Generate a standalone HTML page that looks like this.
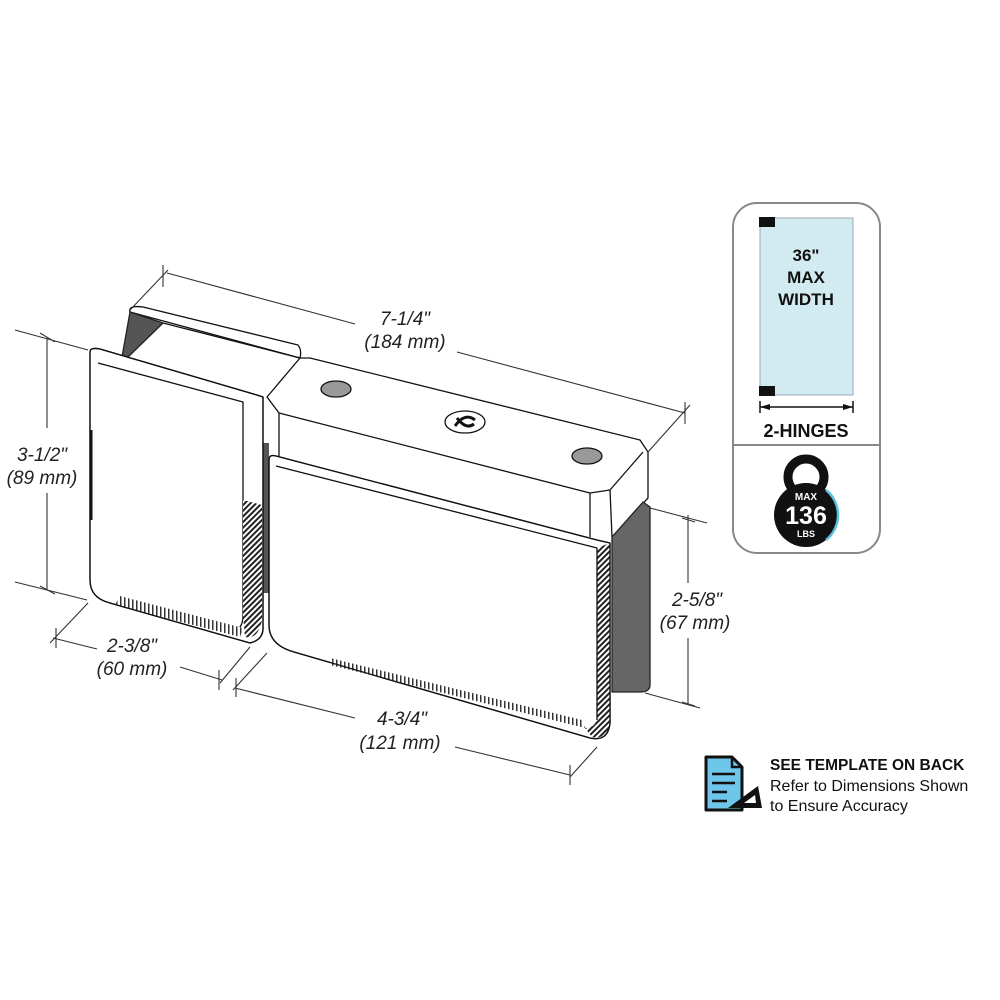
<!DOCTYPE html>
<html><head><meta charset="utf-8"><style>
html,body{margin:0;padding:0;background:#fff;}
svg{display:block;}
.dim{font-family:"Liberation Sans",sans-serif;font-style:italic;font-size:19px;fill:#222;}
.b{font-family:"Liberation Sans Narrow","Liberation Sans",sans-serif;font-weight:bold;fill:#111;}
</style></head><body>
<svg width="1000" height="1000" viewBox="0 0 1000 1000" xmlns="http://www.w3.org/2000/svg">
<defs>
<pattern id="hat" width="4" height="4" patternUnits="userSpaceOnUse" patternTransform="rotate(45)">
<rect width="4" height="4" fill="#fff"/><rect width="2" height="4" fill="#222"/></pattern>
<pattern id="hatv" width="4" height="4" patternUnits="userSpaceOnUse">
<rect width="4" height="4" fill="#fff"/><rect width="1.5" height="4" fill="#333"/></pattern>
</defs>
<g stroke="#111" stroke-width="1.3" fill="none" stroke-linejoin="round">
<path d="M130,312 Q128,305 143,307 L298,345 Q302,350 300,358 Z" fill="#fff"/>
<line x1="163" y1="323" x2="300" y2="358"/>
<polygon points="130,312 163,323 127,358 122,357" fill="#555" stroke="#222"/>
<path d="M300,358 L310,358 L640,440 L648,452 L648,498 L612,537 L610,490 L590,493 L279,413 L267,397 Z" fill="#fff"/>
<path d="M610,490 L643,452" />
<line x1="590" y1="493" x2="590" y2="537"/>
<line x1="279" y1="413" x2="279" y2="460"/>
<ellipse cx="336" cy="389" rx="15" ry="8" fill="#999"/>
<ellipse cx="587" cy="456" rx="15" ry="8" fill="#999"/>
<ellipse cx="465" cy="422" rx="20" ry="11" fill="#fff"/>
<path d="M455,426 Q465,412 475,420 M457,418 Q466,430 474,424" stroke-width="3"/>
<path d="M612,537 L643,502 L650,507 L650,685 Q650,692 640,692 L612,692 Z" fill="#666" stroke="#222"/>
<rect x="263" y="443" width="6" height="150" fill="#555" stroke="none"/>
<path d="M90,352 Q90,347 100,349 L257,395 L263,397 L263,630 Q262,640 250,643 L110,603 Q90,598 90,580 Z" fill="#fff"/>
<path d="M98,363 L243,402 L243,615 Q243,632 230,630"/>
<path d="M243,500 L262,505 L262,620 Q258,640 245,637 L243,615 Z" fill="url(#hat)" stroke="none"/>
<path d="M115,605 L240,637 L243,628 L120,596 Z" fill="url(#hatv)" stroke="none"/>
<path d="M90,352 Q90,347 100,349 L257,395 L263,397 L263,630 Q262,640 250,643 L110,603 Q90,598 90,580 Z"/>
<line x1="91" y1="430" x2="91" y2="520" stroke-width="3"/>
<path d="M269,460 Q269,454 276,456 L597,540 L610,543 L610,723 Q608,742 590,738 L294,652 Q269,645 269,625 Z" fill="#fff"/>
<path d="M276,466 L597,548"/>
<path d="M597,548 L610,543 L610,723 Q607,740 592,737 L585,728 Q597,728 597,715 Z" fill="url(#hat)" stroke="none"/>
<path d="M330,665 L585,728 L582,720 L330,658 Z" fill="url(#hatv)" stroke="none"/>
<path d="M269,460 Q269,454 276,456 L597,540 L610,543 L610,723 Q608,742 590,738 L294,652 Q269,645 269,625 Z"/>
<line x1="597" y1="548" x2="597" y2="720"/>
</g>
<g stroke="#333" stroke-width="1.1" fill="none">
<line x1="130" y1="310" x2="168" y2="270"/><line x1="163" y1="265" x2="163" y2="287"/>
<line x1="167" y1="273" x2="355" y2="324"/><line x1="457" y1="352" x2="685" y2="413"/>
<line x1="648" y1="452" x2="690" y2="405"/><line x1="685" y1="402" x2="685" y2="424"/>
<line x1="15" y1="330" x2="88" y2="350"/><line x1="15" y1="582" x2="87" y2="600"/>
<line x1="47" y1="338" x2="47" y2="428"/><line x1="47" y1="493" x2="47" y2="590"/>
<line x1="40" y1="333" x2="55" y2="342"/><line x1="40" y1="586" x2="55" y2="594"/>
<line x1="88" y1="603" x2="50" y2="643"/><line x1="250" y1="647" x2="220" y2="683"/>
<line x1="53" y1="638" x2="97" y2="649"/><line x1="180" y1="667" x2="222" y2="680"/>
<line x1="56" y1="628" x2="56" y2="648"/><line x1="219" y1="670" x2="219" y2="690"/>
<line x1="267" y1="653" x2="233" y2="690"/><line x1="597" y1="747" x2="570" y2="777"/>
<line x1="235" y1="688" x2="355" y2="718"/><line x1="455" y1="747" x2="570" y2="775"/>
<line x1="236" y1="678" x2="236" y2="697"/><line x1="570" y1="765" x2="570" y2="785"/>
<line x1="650" y1="508" x2="707" y2="523"/><line x1="645" y1="693" x2="700" y2="708"/>
<line x1="688" y1="515" x2="688" y2="583"/><line x1="688" y1="638" x2="688" y2="705"/>
<line x1="682" y1="518" x2="695" y2="522"/><line x1="682" y1="702" x2="695" y2="706"/>
</g>
<g class="dim" text-anchor="middle">
<text x="405" y="325">7-1/4"</text><text x="405" y="348">(184 mm)</text>
<text x="42" y="461">3-1/2"</text><text x="42" y="484">(89 mm)</text>
<text x="132" y="652">2-3/8"</text><text x="132" y="675">(60 mm)</text>
<text x="402" y="725">4-3/4"</text><text x="400" y="749">(121 mm)</text>
<text x="697" y="606">2-5/8"</text><text x="695" y="629">(67 mm)</text>
</g>
<rect x="733" y="203" width="147" height="350" rx="24" fill="#fff" stroke="#888" stroke-width="2"/>
<line x1="733" y1="445" x2="880" y2="445" stroke="#888" stroke-width="2"/>
<rect x="760" y="218" width="93" height="177" fill="#d2ebf1" stroke="#9ab" stroke-width="1"/>
<rect x="759" y="217" width="16" height="10" fill="#111"/>
<rect x="759" y="386" width="16" height="10" fill="#111"/>
<g class="b" text-anchor="middle" font-size="17">
<text x="806" y="261">36"</text><text x="806" y="283">MAX</text><text x="806" y="305">WIDTH</text>
<text x="806" y="437" font-size="18">2-HINGES</text>
</g>
<g stroke="#111" stroke-width="1.5">
<line x1="760" y1="407" x2="853" y2="407"/><line x1="760" y1="401" x2="760" y2="413"/><line x1="853" y1="401" x2="853" y2="413"/>
</g>
<polygon points="760,407 770,404 770,410" fill="#111"/><polygon points="853,407 843,404 843,410" fill="#111"/>
<circle cx="806" cy="477" r="18" fill="none" stroke="#111" stroke-width="9"/>
<circle cx="806" cy="515" r="32" fill="#111"/>
<path d="M826,490 A32,32 0 0 1 826,540" stroke="#5bc0de" stroke-width="2.5" fill="none"/>
<g font-family="Liberation Sans,sans-serif" font-weight="bold" fill="#fff" text-anchor="middle">
<text x="806" y="500" font-size="10">MAX</text>
<text x="806" y="524" font-size="25">136</text>
<text x="806" y="537" font-size="9">LBS</text>
</g>
<path d="M706,757 L732,757 L742,767 L742,810 L706,810 Z" fill="#6ec6ea" stroke="#111" stroke-width="3" stroke-linejoin="round"/>
<path d="M732,757 L732,767 L742,767" fill="none" stroke="#111" stroke-width="2.5"/>
<g stroke="#111" stroke-width="2.5"><line x1="712" y1="774" x2="735" y2="774"/><line x1="712" y1="783" x2="735" y2="783"/><line x1="712" y1="792" x2="727" y2="792"/><line x1="712" y1="801" x2="727" y2="801"/></g>
<polygon points="728,808 758,786 762,808" fill="#111"/>
<polygon points="744,803 755,795 756,803" fill="#fff"/>
<g font-family="Liberation Sans,sans-serif" fill="#111">
<text x="770" y="770" font-size="15.5" font-weight="bold">SEE TEMPLATE ON BACK</text>
<text x="770" y="791" font-size="16">Refer to Dimensions Shown</text>
<text x="770" y="811" font-size="16">to Ensure Accuracy</text>
</g>
</svg>
</body></html>
